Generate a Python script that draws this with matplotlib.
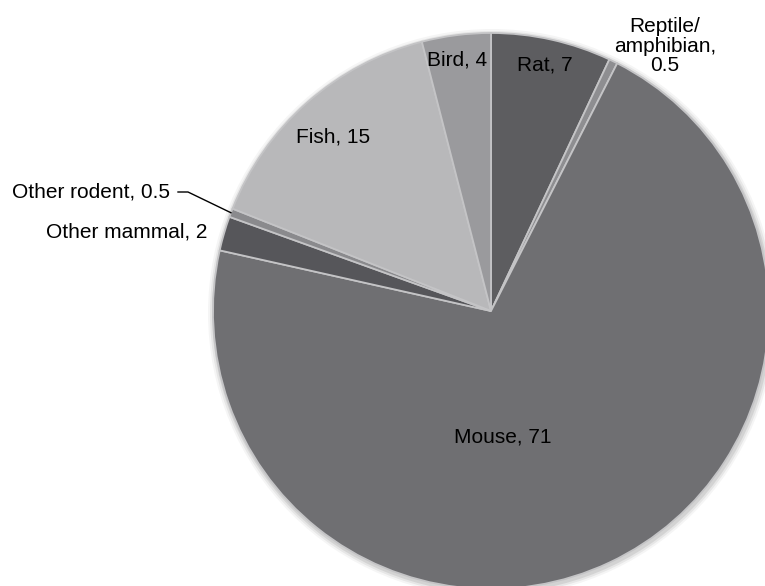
import numpy as np
import matplotlib

matplotlib.use("Agg")
import matplotlib.pyplot as plt  # noqa: E402

plt.rcParams["font.family"] = ["Liberation Sans", "DejaVu Sans"]

# Данные (по часовой стрелке от верха)
labels = ["Rat", "Reptile/\namphibian,\n", "Mouse", "Other mammal", "Other rodent", "Fish", "Bird"]
values = [7, 0.5, 71, 2, 0.5, 15, 4]
colors = ["#5d5d60", "#8e8e91", "#6f6f72", "#56565a", "#8a8a8d", "#b8b8ba", "#9a9a9d"]

W, H = 765, 586
cx, cy, R = 491, 311, 278

fig = plt.figure(figsize=(W / 100, H / 100), dpi=100)
ax = fig.add_axes([0, 0, 1, 1])

# мягкая тень по краю
for k, a in [(6, 0.04), (4, 0.06), (2, 0.08)]:
    ax.add_patch(plt.Circle((cx + 1, cy + 2), R + k, color="black", alpha=a, lw=0))

# y перевёрнута: startangle=-90 -> верх, counterclock=True -> по часовой на экране
wedges, _ = ax.pie(values, colors=colors, startangle=-90, counterclock=True,
                   center=(cx, cy), radius=R,
                   wedgeprops=dict(edgecolor="#c4c4c6", linewidth=1.3))
ax.set_xlim(0, W)
ax.set_ylim(H, 0)
ax.set_aspect("equal")
ax.axis("off")

fs = 15
text_pos = {
    "Rat": (545, 65),
    "Bird": (457, 60),
    "Fish": (333, 137),
    "Mouse": (503, 437),
}
for lab, val in zip(labels, values):
    if lab in text_pos:
        x, y = text_pos[lab]
        ax.text(x, y, f"{lab}, {val:g}", ha="center", va="center", fontsize=fs)

ax.text(665, 46, "Reptile/\namphibian,\n0.5", ha="center", va="center",
        fontsize=fs, linespacing=1.05)
ax.text(207, 232, "Other mammal, 2", ha="right", va="center", fontsize=fs)

# подпись с выноской для Other rodent
cum = np.cumsum(values) - np.array(values) / 2
mid = cum[4] / sum(values) * 2 * np.pi
px, py = cx + R * np.sin(mid), cy - R * np.cos(mid)
ax.text(170, 192, "Other rodent, 0.5", ha="right", va="center", fontsize=fs)
ax.plot([178, 188, px], [192, 192, py], color="black", lw=1)

fig.savefig("out.png", dpi=100)
plt.close(fig)
